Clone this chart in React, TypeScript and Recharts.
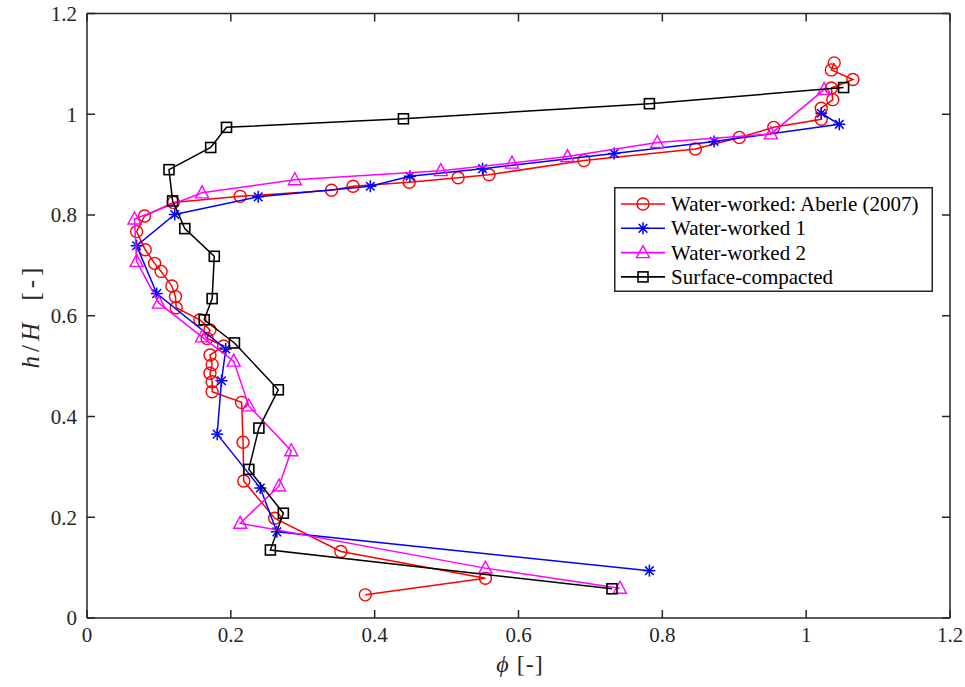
import { ScatterChart, Scatter, XAxis, YAxis, Legend, Label } from "recharts";

// phi [-] vs h/H [-]
const aberlePhi = [0.387, 0.554, 0.353, 0.261, 0.218, 0.217, 0.215, 0.174, 0.174, 0.171, 0.174, 0.171, 0.19, 0.167, 0.171, 0.157, 0.124, 0.123, 0.118, 0.103, 0.094, 0.081, 0.069, 0.08, 0.12, 0.213, 0.34, 0.37, 0.448, 0.516, 0.559, 0.691, 0.846, 0.907, 0.955, 1.021, 1.021, 1.037, 1.035, 1.065, 1.035, 1.039];
const aberleH = [0.046, 0.079, 0.132, 0.198, 0.272, 0.349, 0.428, 0.449, 0.469, 0.486, 0.503, 0.522, 0.54, 0.555, 0.572, 0.592, 0.616, 0.638, 0.659, 0.688, 0.704, 0.731, 0.767, 0.798, 0.825, 0.837, 0.849, 0.857, 0.865, 0.874, 0.88, 0.908, 0.931, 0.954, 0.974, 0.99, 1.012, 1.029, 1.052, 1.069, 1.088, 1.102];

const ww1Phi = [0.782, 0.264, 0.241, 0.181, 0.187, 0.193, 0.097, 0.069, 0.122, 0.238, 0.394, 0.449, 0.55, 0.733, 0.872, 1.046, 1.021];
const ww1H = [0.094, 0.171, 0.258, 0.365, 0.471, 0.534, 0.644, 0.739, 0.801, 0.836, 0.857, 0.877, 0.892, 0.922, 0.946, 0.98, 1.002];

const ww2Phi = [0.741, 0.554, 0.213, 0.267, 0.284, 0.225, 0.204, 0.16, 0.1, 0.069, 0.066, 0.16, 0.289, 0.492, 0.591, 0.668, 0.793, 0.951, 1.025];
const ww2H = [0.059, 0.099, 0.188, 0.262, 0.332, 0.421, 0.51, 0.558, 0.625, 0.708, 0.792, 0.844, 0.87, 0.888, 0.903, 0.916, 0.944, 0.961, 1.049];

const compactPhi = [0.73, 0.255, 0.273, 0.225, 0.239, 0.266, 0.205, 0.163, 0.174, 0.177, 0.136, 0.119, 0.114, 0.172, 0.194, 0.44, 0.782, 1.052];
const compactH = [0.058, 0.135, 0.208, 0.295, 0.377, 0.453, 0.546, 0.592, 0.634, 0.718, 0.773, 0.828, 0.89, 0.934, 0.974, 0.991, 1.021, 1.053];

const xTicks = [0, 0.2, 0.4, 0.6, 0.8, 1, 1.2];
const yTicks = [0, 0.2, 0.4, 0.6, 0.8, 1, 1.2];

const FONT = "'Liberation Serif', 'Times New Roman', serif";
const AXIS = "#262626";

const toPoints = (phi: number[], h: number[]) => phi.map((p, i) => ({ phi: p, h: h[i] }));

type Marker = "circle" | "star" | "triangle" | "square";

function drawMarker(kind: Marker, cx: number, cy: number, color: string) {
    if (kind === "circle") {
        return <circle cx={cx} cy={cy} r={6} fill="none" stroke={color} strokeWidth={1.4} />;
    }
    if (kind === "square") {
        return <rect x={cx - 5} y={cy - 5} width={10} height={10} fill="none" stroke={color} strokeWidth={1.6} />;
    }
    if (kind === "triangle") {
        return (
            <polygon
                points={`${cx},${cy - 7} ${cx - 6.5},${cy + 5} ${cx + 6.5},${cy + 5}`}
                fill="none"
                stroke={color}
                strokeWidth={1.4}
            />
        );
    }
    const s = 6;
    const d = 4.3;
    return (
        <g stroke={color} strokeWidth={1.5}>
            <line x1={cx - s} y1={cy} x2={cx + s} y2={cy} />
            <line x1={cx} y1={cy - s} x2={cx} y2={cy + s} />
            <line x1={cx - d} y1={cy - d} x2={cx + d} y2={cy + d} />
            <line x1={cx - d} y1={cy + d} x2={cx + d} y2={cy - d} />
        </g>
    );
}

// the last series sits on the mirrored top/right axes (same domains) so the box gets drawn
const series = [
    { name: "Water-worked: Aberle (2007)", color: "#ff0000", marker: "circle" as Marker, data: toPoints(aberlePhi, aberleH), xId: 0, yId: 0 },
    { name: "Water-worked 1", color: "#0000ff", marker: "star" as Marker, data: toPoints(ww1Phi, ww1H), xId: 0, yId: 0 },
    { name: "Water-worked 2", color: "#ff00ff", marker: "triangle" as Marker, data: toPoints(ww2Phi, ww2H), xId: 0, yId: 0 },
    { name: "Surface-compacted", color: "#000000", marker: "square" as Marker, data: toPoints(compactPhi, compactH), xId: "top", yId: "right" },
];

function LegendBox() {
    return (
        <svg width={320} height={106} style={{ display: "block" }}>
            <rect x={0.75} y={0.75} width={317.5} height={103.5} fill="#fff" stroke={AXIS} strokeWidth={1.5} />
            {series.map((s, i) => {
                const y = 17 + i * 24.3;
                return (
                    <g key={s.name}>
                        <line x1={7} y1={y} x2={51} y2={y} stroke={s.color} strokeWidth={1.6} />
                        {drawMarker(s.marker, 29, y, s.color)}
                        <text x={57} y={y + 7} fontFamily={FONT} fontSize={21} fill="#000">
                            {s.name}
                        </text>
                    </g>
                );
            })}
        </svg>
    );
}

const tickStyle = { fontFamily: FONT, fontSize: 21, fill: AXIS };

export default function App() {
    return (
        <div style={{ position: "absolute", left: 0, top: 0, background: "#fff" }}>
            <ScatterChart width={965} height={687} margin={{ top: 12.5, right: 14, bottom: 0, left: 0 }}>
                <XAxis
                    type="number"
                    dataKey="phi"
                    domain={[0, 1.2]}
                    ticks={xTicks}
                    height={69}
                    tickSize={-8}
                    tickMargin={17}
                    tick={tickStyle}
                    stroke={AXIS}
                    strokeWidth={1.5}
                    allowDataOverflow
                >
                    <Label
                        content={() => (
                            <text x={520} y={672} textAnchor="middle" fontFamily={FONT} fontSize={24} fill={AXIS} letterSpacing={1}>
                                <tspan fontStyle="italic">ϕ</tspan>
                                <tspan> [-]</tspan>
                            </text>
                        )}
                    />
                </XAxis>
                <XAxis
                    xAxisId="top"
                    orientation="top"
                    type="number"
                    dataKey="phi"
                    domain={[0, 1.2]}
                    ticks={xTicks}
                    height={1}
                    tickSize={-8}
                    tickFormatter={() => ""}
                    stroke={AXIS}
                    strokeWidth={1.5}
                    allowDataOverflow
                />
                <YAxis
                    type="number"
                    dataKey="h"
                    domain={[0, 1.2]}
                    ticks={yTicks}
                    width={87}
                    tickSize={-8}
                    tickMargin={18}
                    tick={tickStyle}
                    stroke={AXIS}
                    strokeWidth={1.5}
                    allowDataOverflow
                >
                    <Label
                        content={() => (
                            <text
                                x={39}
                                y={316}
                                transform="rotate(-90 39 316)"
                                textAnchor="middle"
                                fontFamily={FONT}
                                fontSize={25}
                                fill={AXIS}
                                letterSpacing={4}
                            >
                                <tspan fontStyle="italic">h</tspan>
                                <tspan>/</tspan>
                                <tspan fontStyle="italic">H</tspan>
                                <tspan dx={8}> [-]</tspan>
                            </text>
                        )}
                    />
                </YAxis>
                <YAxis
                    yAxisId="right"
                    orientation="right"
                    type="number"
                    dataKey="h"
                    domain={[0, 1.2]}
                    ticks={yTicks}
                    width={1}
                    tickSize={-8}
                    tickFormatter={() => ""}
                    stroke={AXIS}
                    strokeWidth={1.5}
                    allowDataOverflow
                />
                {series.map((s) => (
                    <Scatter
                        key={s.name}
                        name={s.name}
                        data={s.data}
                        xAxisId={s.xId}
                        yAxisId={s.yId}
                        line={{ stroke: s.color, strokeWidth: 1.5 }}
                        lineType="joint"
                        isAnimationActive={false}
                        shape={(p: any) => drawMarker(s.marker, p.cx, p.cy, s.color)}
                    />
                ))}
                <Legend
                    layout="horizontal"
                    verticalAlign="middle"
                    align="center"
                    wrapperStyle={{ left: 614, top: 187, width: 320, height: 106 }}
                    content={() => <LegendBox />}
                />
            </ScatterChart>
        </div>
    );
}
